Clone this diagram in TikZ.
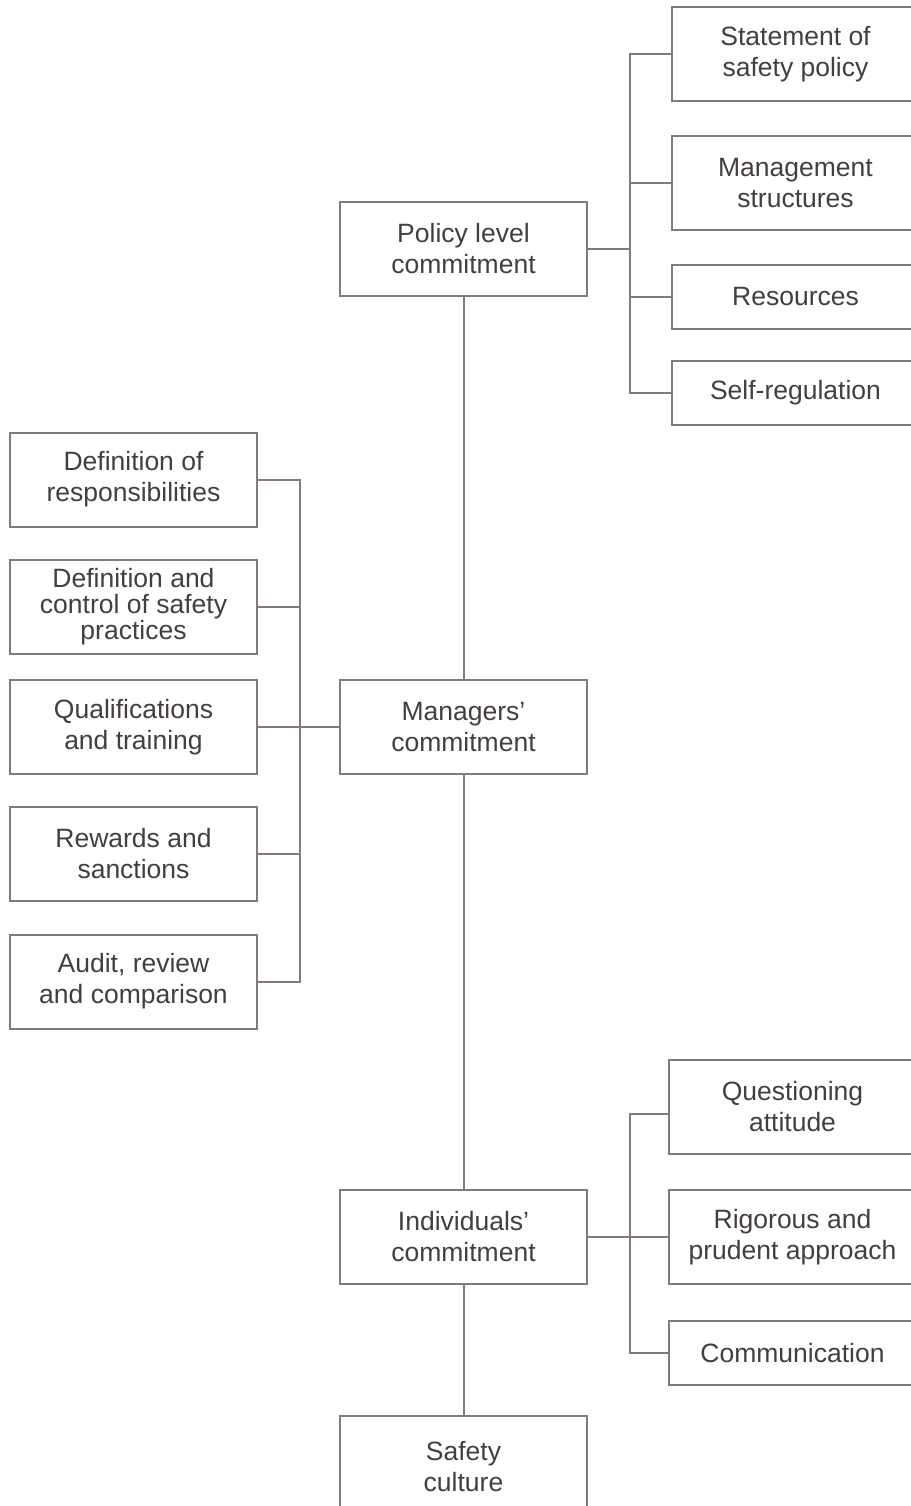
\documentclass[tikz,border=0pt]{standalone}
\usepackage{fontspec}
\setmainfont{Liberation Sans}
\definecolor{boxgray}{RGB}{132,122,122}
\definecolor{inkgray}{RGB}{68,62,62}

\begin{document}
\begin{tikzpicture}[x=1pt,y=-1pt,
    box/.style={draw=boxgray, line width=2pt, minimum width=247pt, minimum height=94pt,
      inner sep=0pt, align=center, text=inkgray, font=\fontsize{26.5}{31}\selectfont},
    flatbox/.style={box, minimum height=64pt},
    link/.style={draw=boxgray, line width=2pt}]
    \useasboundingbox (0,0) rectangle (910,1506);
    \coordinate (lbus) at (300,0);
    \coordinate (rbus) at (630,0);

    \node[box] (policy) at (463.5,249) {Policy level\\commitment};
    \node[box] (managers) at (463.5,727) {Managers'\\commitment};
    \node[box] (indiv) at (463.5,1237) {Individuals'\\commitment};
    \node[box, minimum height=102pt] (culture) at (463.5,1467) {Safety\\culture};

    \node[box] (stmt) at (795.5,54) {Statement of\\safety policy};
    \node[box] (mgmt) at (795.5,183) {Management\\structures};
    \node[flatbox] (res) at (795.5,297) {Resources};
    \node[flatbox] (selfreg) at (795.5,393) {Self-regulation};

    \node[box] (defresp) at (133.5,479.5) {Definition of\\responsibilities};
    \node[box] (defctrl) at (133.5,606.5) {Definition and\\[-5pt]control of safety\\[-5pt]practices};
    \node[box] (qual) at (133.5,727) {Qualifications\\and training};
    \node[box] (rew) at (133.5,853.5) {Rewards and\\sanctions};
    \node[box] (audit) at (133.5,981.5) {Audit, review\\and comparison};

    \node[box] (quest) at (792.5,1107) {Questioning\\attitude};
    \node[box] (rig) at (792.5,1237) {Rigorous and\\prudent approach};
    \node[flatbox] (comm) at (792.5,1353) {Communication};

    \draw[link] (policy.south) -- (managers.north);
    \draw[link] (managers.south) -- (indiv.north);
    \draw[link] (indiv.south) -- (culture.north);

    \draw[link] (policy.east) -- (policy.east -| rbus);
    \draw[link] (stmt.west) -- (stmt.west -| rbus) |- (selfreg.west);
    \draw[link] (mgmt.west) -- (mgmt.west -| rbus);
    \draw[link] (res.west) -- (res.west -| rbus);

    \draw[link] (managers.west) -- (qual.east);
    \draw[link] (defresp.east) -- (defresp.east -| lbus) |- (audit.east);
    \draw[link] (defctrl.east) -- (defctrl.east -| lbus);
    \draw[link] (rew.east) -- (rew.east -| lbus);

    \draw[link] (indiv.east) -- (rig.west);
    \draw[link] ([yshift=-7pt]quest.west) -- ([yshift=-7pt]quest.west -| rbus) |- (comm.west);
\end{tikzpicture}
\end{document}
